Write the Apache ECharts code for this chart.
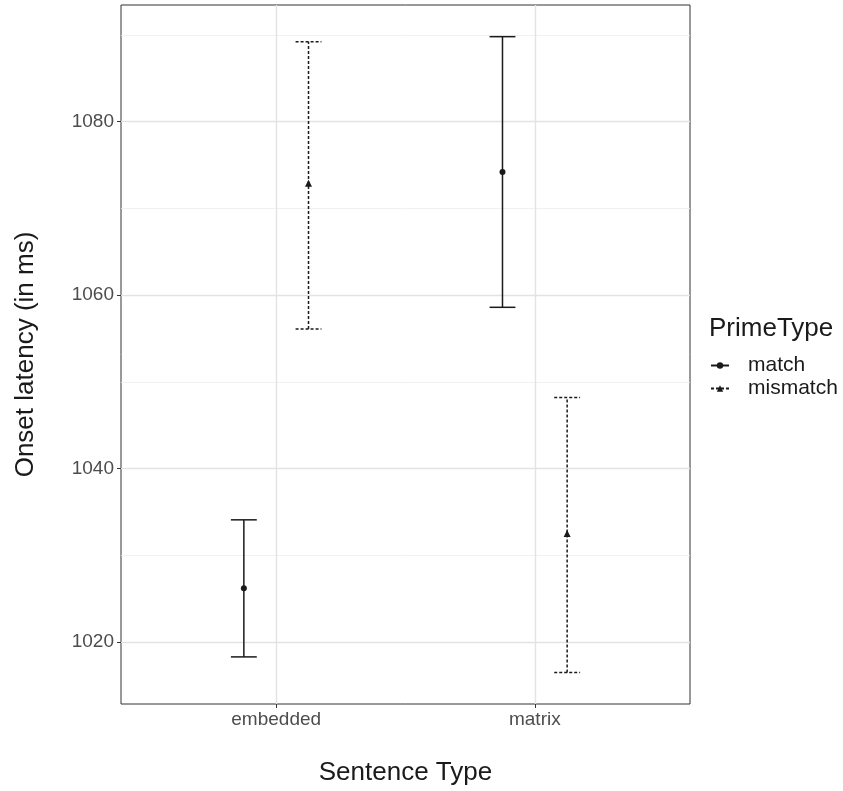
<!DOCTYPE html>
<html>
<head>
  <meta charset="UTF-8">
  <title>Onset latency by sentence type</title>
  <script src="https://cdn.jsdelivr.net/npm/echarts@6/dist/echarts.min.js"></script>
</head>
<body style="margin: 0;background: #fff;">
  <div id="chart" style="width: 843px;height: 791px;"></div>
  <script type="text/javascript">
    // values
    var categories = ['embedded', 'matrix'];
    var primeTypes = ['match', 'mismatch'];
    var matchMean = [1026.2, 1074.2];
    var matchLow = [1018.3, 1058.6];
    var matchHigh = [1034.1, 1089.8];
    var mismatchMean = [1072.8, 1032.4];
    var mismatchLow = [1056.1, 1016.5];
    var mismatchHigh = [1089.2, 1048.2];
    var yTicks = [1020, 1040, 1060, 1080];
    var yMinor = [1030, 1050, 1070, 1090];
    var xTicks = [1, 2];

    var font = '"Liberation Sans", Arial, sans-serif';
    var ink = '#1a1a1a';
    var dodge = 0.125, capWidth = 0.1;

    function rows(mean, low, high) {
      return categories.map(function (c, i) {
        return [i, low[i], high[i], mean[i]];
      });
    }

    function errorBar(offset, dashed, triangle) {
      return function (params, api) {
        var x = api.value(0) + 1 + offset;
        var lo = api.coord([x, api.value(1)]);
        var hi = api.coord([x, api.value(2)]);
        var mid = api.coord([x, api.value(3)]);
        var half = api.size([capWidth, 0])[0] / 2;
        var style = { stroke: ink, lineWidth: 1.5, lineDash: dashed ? [3, 2] : null, fill: null };
        var kids = [
          { type: 'line', shape: { x1: lo[0], y1: lo[1], x2: hi[0], y2: hi[1] }, style: style },
          { type: 'line', shape: { x1: hi[0] - half, y1: hi[1], x2: hi[0] + half, y2: hi[1] }, style: style },
          { type: 'line', shape: { x1: lo[0] - half, y1: lo[1], x2: lo[0] + half, y2: lo[1] }, style: style }
        ];
        if (triangle) {
          kids.push({ type: 'polygon', shape: { points: [[mid[0], mid[1] - 4.5], [mid[0] - 3.5, mid[1] + 2.5], [mid[0] + 3.5, mid[1] + 2.5]] },
            style: { fill: ink } });
        } else {
          kids.push({ type: 'circle', shape: { cx: mid[0], cy: mid[1], r: 3 }, style: { fill: ink } });
        }
        return { type: 'group', children: kids };
      };
    }

    var gridLines = [];
    yTicks.forEach(function (v) { gridLines.push({ yAxis: v, lineStyle: { color: '#e3e3e3', width: 1.4, type: 'solid' } }); });
    yMinor.forEach(function (v) { gridLines.push({ yAxis: v, lineStyle: { color: '#ececec', width: 0.8, type: 'solid' } }); });
    xTicks.forEach(function (v) { gridLines.push({ xAxis: v, lineStyle: { color: '#e3e3e3', width: 1.4, type: 'solid' } }); });

    var chart = echarts.init(document.getElementById('chart'));
    var option = {
      animation: false,
      textStyle: { fontFamily: font },
      title: {
        text: 'PrimeType', left: 709, top: 316, padding: 0,
        textStyle: { fontFamily: font, fontSize: 26, fontWeight: 'normal', color: ink }
      },
      legend: {
        data: primeTypes, orient: 'vertical', left: 705, top: 350,
        itemWidth: 18, itemHeight: 8, itemGap: 2,
        textStyle: { fontFamily: font, fontSize: 21, color: ink, padding: [0, 0, 0, 14] }
      },
      grid: { left: 121, right: 153, top: 5, bottom: 85, show: true, borderColor: '#333', borderWidth: 1 },
      xAxis: {
        type: 'value', min: 0.4, max: 2.6,
        name: 'Sentence Type', nameLocation: 'middle', nameGap: 56,
        nameTextStyle: { fontFamily: font, fontSize: 26, color: ink },
        axisLine: { show: false },
        axisTick: { show: true, customValues: xTicks, length: 4, lineStyle: { color: '#333' } },
        axisLabel: {
          customValues: xTicks, fontSize: 19, color: '#4d4d4d', margin: 6,
          formatter: function (v) { return categories[Math.round(v) - 1]; }
        },
        splitLine: { show: false }
      },
      yAxis: {
        type: 'value', min: 1012.87, max: 1093.45,
        name: 'Onset latency (in ms)', nameLocation: 'middle', nameGap: 82,
        nameTextStyle: { fontFamily: font, fontSize: 26, color: ink },
        axisLine: { show: false },
        axisTick: { show: true, customValues: yTicks, length: 4, lineStyle: { color: '#333' } },
        axisLabel: {
          customValues: yTicks, fontSize: 19, color: '#4d4d4d', margin: 7, padding: [3, 0, 0, 0],
          formatter: function (v) { return String(Math.round(v)); }
        },
        splitLine: { show: false }
      },
      series: [
        {
          type: 'line', name: 'match', data: [], symbol: 'circle', symbolSize: 6,
          itemStyle: { color: ink }, lineStyle: { color: ink, width: 1.5, type: 'solid' }
        },
        {
          type: 'line', name: 'mismatch', data: [], symbol: 'triangle', symbolSize: 7,
          itemStyle: { color: ink }, lineStyle: { color: ink, width: 1.5, type: [3, 2] }
        },
        {
          type: 'line', name: 'grid', data: [], silent: true, z: 1,
          markLine: { silent: true, symbol: 'none', label: { show: false }, data: gridLines }
        },
        {
          type: 'custom', name: 'match', z: 5,
          renderItem: errorBar(-dodge, false, false),
          encode: { x: 0, y: [1, 2, 3] },
          data: rows(matchMean, matchLow, matchHigh)
        },
        {
          type: 'custom', name: 'mismatch', z: 5,
          renderItem: errorBar(dodge, true, true),
          encode: { x: 0, y: [1, 2, 3] },
          data: rows(mismatchMean, mismatchLow, mismatchHigh)
        }
      ]
    };
    chart.setOption(option);
  </script>
</body>
</html>
